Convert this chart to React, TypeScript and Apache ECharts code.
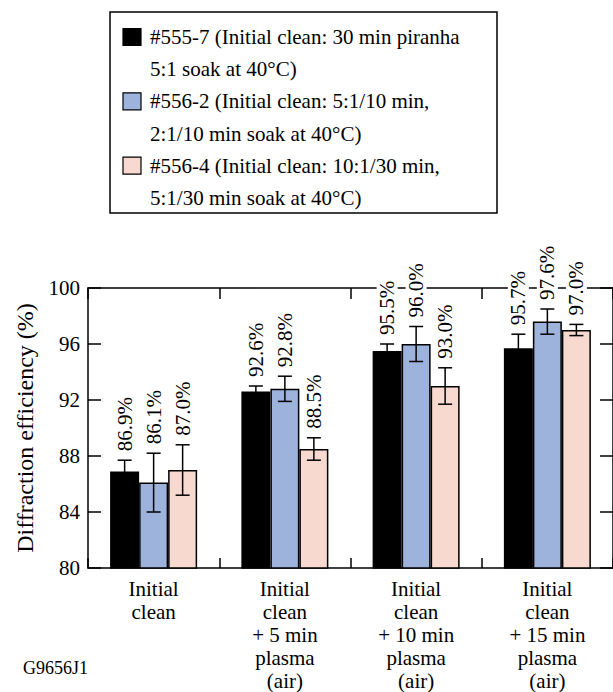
import React, { useEffect, useRef } from "react";
import * as echarts from "echarts";

const categories = [
  "Initial\nclean",
  "Initial\nclean\n+ 5 min\nplasma\n(air)",
  "Initial\nclean\n+ 10 min\nplasma\n(air)",
  "Initial\nclean\n+ 15 min\nplasma\n(air)",
];
const seriesNames = ["#555-7", "#556-2", "#556-4"];
const seriesColors = ["#000000", "#9db3dc", "#f8d9cf"];
const values555_7 = [86.9, 92.6, 95.5, 95.7];
const values556_2 = [86.1, 92.8, 96.0, 97.6];
const values556_4 = [87.0, 88.5, 93.0, 97.0];
const err555_7 = [0.8, 0.4, 0.5, 1.0];
const err556_2 = [2.1, 0.9, 1.25, 0.9];
const err556_4 = [1.8, 0.8, 1.3, 0.4];
const legendLines = [
  ["#555-7 (Initial clean: 30 min piranha", "5:1 soak at 40°C)"],
  ["#556-2 (Initial clean: 5:1/10 min,", "2:1/10 min soak at 40°C)"],
  ["#556-4 (Initial clean: 10:1/30 min,", "5:1/30 min soak at 40°C)"],
];
const yTicks = { min: 80, max: 100, interval: 4 };
const yName = "Diffraction efficiency (%)";
const figureId = "G9656J1";

const FONT = "Liberation Serif";
const BAR_W = 29;

export default function App() {
  const ref = useRef<HTMLDivElement>(null);
  useEffect(() => {
    const chart = echarts.init(ref.current!, null, { renderer: "svg" });
    const allVals = [values555_7, values556_2, values556_4];
    const allErrs = [err555_7, err556_2, err556_4];

    const barSeries = allVals.map((vals, si) => ({
      type: "bar",
      name: seriesNames[si],
      data: vals,
      barWidth: BAR_W,
      barGap: "0%",
      itemStyle: { color: seriesColors[si], borderColor: "#000", borderWidth: 1.5 },
      z: 2,
    }));

    const errSeries = allVals.map((vals, si) => ({
      type: "custom",
      name: seriesNames[si] + " err",
      data: vals.map((v, i) => [i, v, allErrs[si][i]]),
      z: 5,
      renderItem: (params: any, api: any) => {
        const ci = api.value(0);
        const v = api.value(1);
        const e = api.value(2);
        const c = api.coord([ci, v]);
        const hi = api.coord([ci, v + e]);
        const lo = api.coord([ci, v - e]);
        const x = c[0] + (si - 1) * BAR_W;
        const cap = 7;
        const ls = { stroke: "#000", lineWidth: 1.5 };
        return {
          type: "group",
          children: [
            { type: "line", shape: { x1: x, y1: lo[1], x2: x, y2: hi[1] }, style: ls },
            { type: "line", shape: { x1: x - cap, y1: hi[1], x2: x + cap, y2: hi[1] }, style: ls },
            { type: "line", shape: { x1: x - cap, y1: lo[1], x2: x + cap, y2: lo[1] }, style: ls },
            {
              type: "text",
              x: x,
              y: hi[1] - 7,
              rotation: Math.PI / 2,
              style: {
                text: v.toFixed(1) + "%",
                fontFamily: FONT,
                fontSize: 21,
                fill: "#000",
                align: "left",
                verticalAlign: "middle",
                backgroundColor: "#fff",
                padding: [0, 2],
              },
            },
          ],
        };
      },
    }));

    const legendGraphics: any[] = [
      {
        type: "rect",
        shape: { x: 110, y: 12, width: 387, height: 201 },
        style: { fill: "none", stroke: "#000", lineWidth: 1.5 },
      },
    ];
    legendLines.forEach((lines, i) => {
      const y1 = 37 + 64.3 * i;
      legendGraphics.push({
        type: "rect",
        shape: { x: 123, y: y1 - 8.5, width: 18, height: 17 },
        style: { fill: seriesColors[i], stroke: "#000", lineWidth: 1.2 },
      });
      lines.forEach((t, j) => {
        legendGraphics.push({
          type: "text",
          x: 150,
          y: y1 + j * 32.2,
          style: {
            text: t,
            fontFamily: FONT,
            fontSize: 21,
            fill: "#000",
            align: "left",
            verticalAlign: "middle",
          },
        });
      });
    });
    legendGraphics.push({
      type: "text",
      x: 23,
      y: 668,
      style: {
        text: figureId,
        fontFamily: FONT,
        fontSize: 18,
        fill: "#000",
        align: "left",
        verticalAlign: "middle",
      },
    });

    const axisLine = { show: true, lineStyle: { color: "#000", width: 1.5 } };
    const option: any = {
      animation: false,
      backgroundColor: "#fff",
      textStyle: { fontFamily: FONT },
      grid: { left: 88, top: 288, width: 532, height: 284 },
      legend: { show: false },
      xAxis: [
        {
          type: "category",
          data: categories,
          position: "bottom",
          axisLine,
          axisTick: { show: true, inside: true, length: 10, lineStyle: { color: "#000", width: 1.5 } },
          axisLabel: {
            interval: 0,
            fontFamily: FONT,
            fontSize: 21,
            lineHeight: 23,
            color: "#000",
            margin: 9,
          },
        },
        {
          type: "category",
          data: categories,
          position: "top",
          axisLine,
          axisTick: { show: true, inside: true, length: 11, lineStyle: { color: "#000", width: 1.5 } },
          axisLabel: { show: false },
        },
      ],
      yAxis: [
        {
          type: "value",
          min: yTicks.min,
          max: yTicks.max,
          interval: yTicks.interval,
          position: "left",
          axisLine,
          axisTick: { show: true, inside: true, length: 13, lineStyle: { color: "#000", width: 1.5 } },
          splitLine: { show: false },
          axisLabel: { fontFamily: FONT, fontSize: 21, color: "#000", margin: 8 },
          name: yName,
          nameLocation: "middle",
          nameGap: 51,
          nameTextStyle: { fontFamily: FONT, fontSize: 24, color: "#000" },
        },
        {
          type: "value",
          min: yTicks.min,
          max: yTicks.max,
          interval: yTicks.interval,
          position: "right",
          axisLine,
          axisTick: { show: true, inside: true, length: 13, lineStyle: { color: "#000", width: 1.5 } },
          splitLine: { show: false },
          axisLabel: { show: false },
        },
      ],
      series: [...barSeries, ...errSeries],
      graphic: legendGraphics,
    };
    chart.setOption(option);
    return () => chart.dispose();
  }, []);
  return (
    <div
      ref={ref}
      style={{ position: "absolute", left: 0, top: 0, width: 613, height: 692 }}
    />
  );
}
